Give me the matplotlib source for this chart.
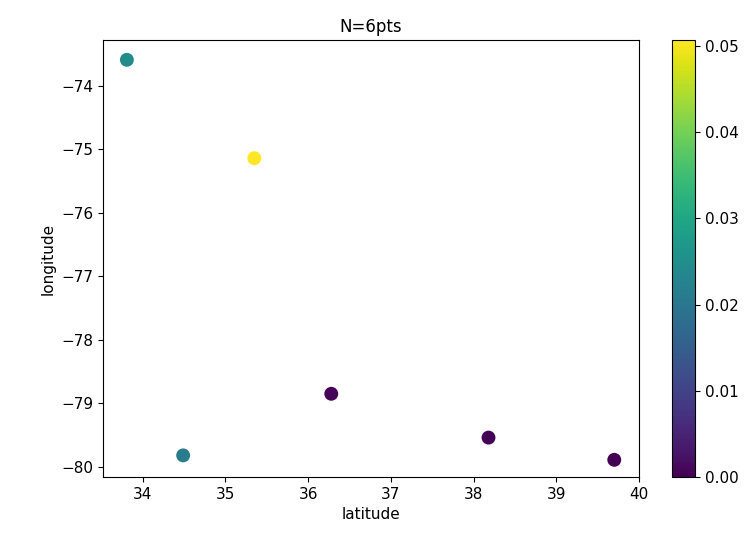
import numpy as np
import matplotlib.pyplot as plt

lat = [33.81, 35.35, 34.49, 36.28, 38.18, 39.70]
lon = [-73.59, -75.14, -79.82, -78.85, -79.54, -79.89]
val = [0.0245, 0.0507, 0.021, 0.0004, 0.0002, 0.0]

fig = plt.figure(figsize=(7.51, 5.42), dpi=100)
ax = fig.add_axes([0.137, 0.12, 0.714, 0.806])
cax = fig.add_axes([0.895, 0.12, 0.031, 0.806])

sc = ax.scatter(lat, lon, c=val, cmap='viridis', s=100, linewidths=0)
ax.set_xlim(33.52, 40.0)
ax.set_ylim(-80.16, -73.28)
ax.set_xlabel('latitude', fontsize=11)
ax.set_ylabel('longitude', fontsize=11)
ax.set_title('N=6pts', fontsize=12)
ax.tick_params(labelsize=11)

cb = fig.colorbar(sc, cax=cax)
cb.set_ticks([0.0, 0.01, 0.02, 0.03, 0.04, 0.05])
cb.ax.set_yticklabels(['0.00', '0.01', '0.02', '0.03', '0.04', '0.05'])
cb.ax.tick_params(labelsize=11)

plt.savefig('out.png')
